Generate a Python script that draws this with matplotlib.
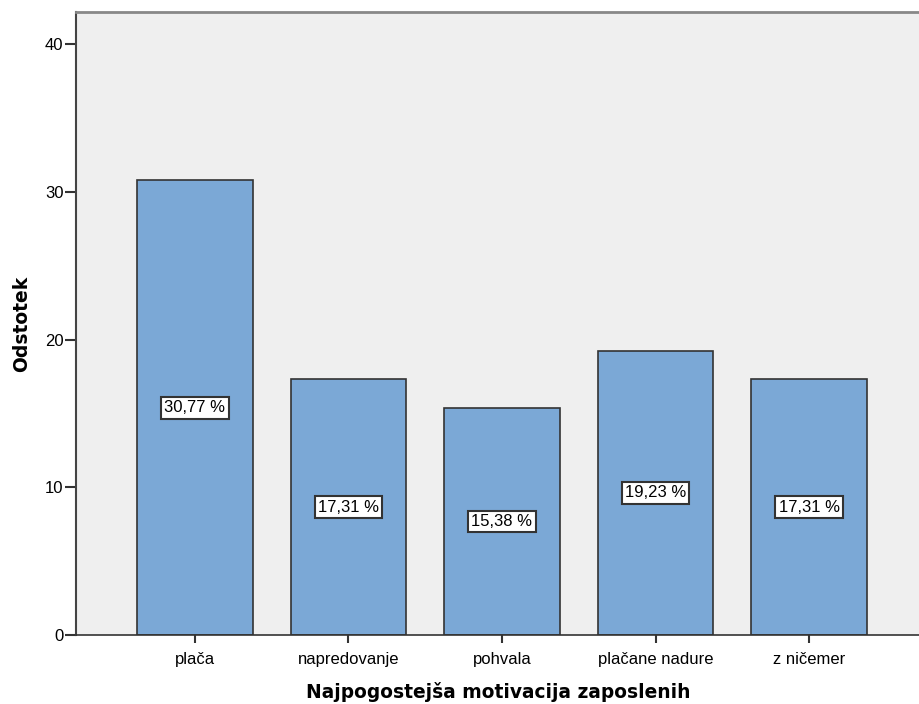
import matplotlib.pyplot as plt
import numpy as np

# response categories and their share of respondents (%)
categories = ["plača", "napredovanje", "pohvala", "plačane nadure", "z ničemer"]
percent = [30.77, 17.31, 15.38, 19.23, 17.31]
y_ticks = [0, 10, 20, 30, 40]

bar_color = "#7BA8D6"
bg_color = "#EFEFEF"

fig = plt.figure(figsize=(9.2, 7.04), dpi=100)
ax = fig.add_axes([76 / 920, 1 - 635 / 704, 844 / 920, 623 / 704])
ax.set_facecolor(bg_color)

x = np.arange(len(categories))
ax.bar(x, percent, width=0.75, color=bar_color, edgecolor="#333333", linewidth=1.2, zorder=2)

# value labels sit halfway up each bar
for xi, v in zip(x, percent):
    lbl = f"{v:.2f}".replace(".", ",") + " %"
    ax.text(xi, v / 2, lbl, ha="center", va="center", fontsize=12,
            family="Liberation Sans", zorder=3,
            bbox=dict(boxstyle="square,pad=0.2", fc="white", ec="#333333", lw=1.5))

ax.set_xlim(-0.775, 4.723)
ax.set_ylim(0, 42.17)
ax.set_xticks(x)
ax.set_xticklabels(categories, family="Liberation Sans", fontsize=12)
ax.set_yticks(y_ticks)
ax.set_yticklabels([str(t) for t in y_ticks], family="Liberation Sans", fontsize=12)
ax.tick_params(axis="y", length=8, width=1.5, color="#333333", pad=1)
ax.tick_params(axis="x", length=6, width=1.5, color="#333333", pad=6)

ax.spines["right"].set_visible(False)
ax.spines["left"].set_color("#444444")
ax.spines["left"].set_linewidth(1.5)
ax.spines["bottom"].set_color("#333333")
ax.spines["bottom"].set_linewidth(1.2)
ax.spines["top"].set_color("#888888")
ax.spines["top"].set_linewidth(2)

ax.set_ylabel("Odstotek", fontsize=13.5, fontweight="bold", family="DejaVu Sans", labelpad=10)
ax.set_xlabel("Najpogostejša motivacija zaposlenih", fontsize=13.4, fontweight="bold",
              family="DejaVu Sans", labelpad=11)

fig.savefig("out.png", dpi=100, facecolor="white")
